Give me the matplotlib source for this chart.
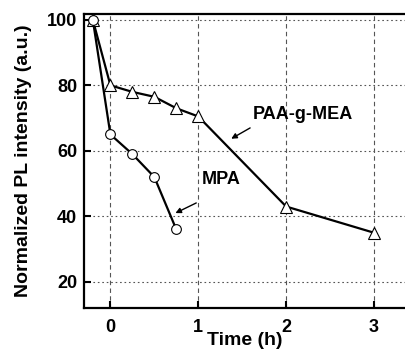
import matplotlib

matplotlib.use("Agg")

import matplotlib.pyplot as plt

plt.rcParams.update(
    {
        "font.family": ["Liberation Sans", "DejaVu Sans"],
        "font.weight": "bold",
        "font.size": 13,
    }
)

# data
mpa_time = [-0.2, 0.0, 0.25, 0.5, 0.75]
mpa_pl = [100, 65, 59, 52, 36]
paa_time = [-0.2, 0.0, 0.25, 0.5, 0.75, 1.0, 2.0, 3.0]
paa_pl = [100, 80, 78, 76.5, 73, 70.5, 43, 35]
x_ticks = [0, 1, 2, 3]
y_ticks = [20, 40, 60, 80, 100]

fig = plt.figure(figsize=(4.06, 3.57), dpi=100)
ax = fig.add_axes([0.207, 0.137, 0.790, 0.824])

ax.plot(paa_time, paa_pl, color="black", lw=1.6, marker="^", ms=8,
        mfc="white", mec="black", mew=0.8, zorder=3)
ax.plot(mpa_time, mpa_pl, color="black", lw=1.6, marker="o", ms=7,
        mfc="white", mec="black", mew=0.8, zorder=4)

ax.set_xlim(-0.3, 3.35)
ax.set_ylim(12, 101.8)
ax.set_xticks(x_ticks)
ax.set_yticks(y_ticks)

for x in x_ticks:
    ax.axvline(x, color="#555555", lw=0.8, ls=(0, (4, 3)), zorder=1)
for y in y_ticks:
    ax.axhline(y, color="#555555", lw=0.8, ls=(0, (1.5, 2.5)), zorder=1)

ax.tick_params(direction="in", length=5, width=1.5, labelsize=13)
ax.tick_params(axis="x", pad=8)
ax.tick_params(axis="y", pad=5)
for side in ["left", "bottom", "top"]:
    ax.spines[side].set_linewidth(1.6)
ax.spines["right"].set_visible(False)

ax.set_xlabel("Time (h)", fontsize=14, fontweight="bold", labelpad=-3)
ax.set_ylabel("Normalized PL intensity (a.u.)", fontsize=14, fontweight="bold",
              labelpad=11)

ax.text(2.19, 71, "PAA-g-MEA", fontsize=13, fontweight="bold",
        ha="center", va="center")
ax.annotate("", xy=(1.375, 63.7), xytext=(1.59, 67.0),
            arrowprops=dict(arrowstyle="-|>", color="black", lw=1.0,
                            mutation_scale=8, shrinkA=0, shrinkB=0))
ax.text(1.26, 51.2, "MPA", fontsize=13, fontweight="bold",
        ha="center", va="center")
ax.annotate("", xy=(0.74, 41.0), xytext=(0.977, 44.1),
            arrowprops=dict(arrowstyle="-|>", color="black", lw=1.0,
                            mutation_scale=8, shrinkA=0, shrinkB=0))

fig.savefig("out.png", dpi=100)
